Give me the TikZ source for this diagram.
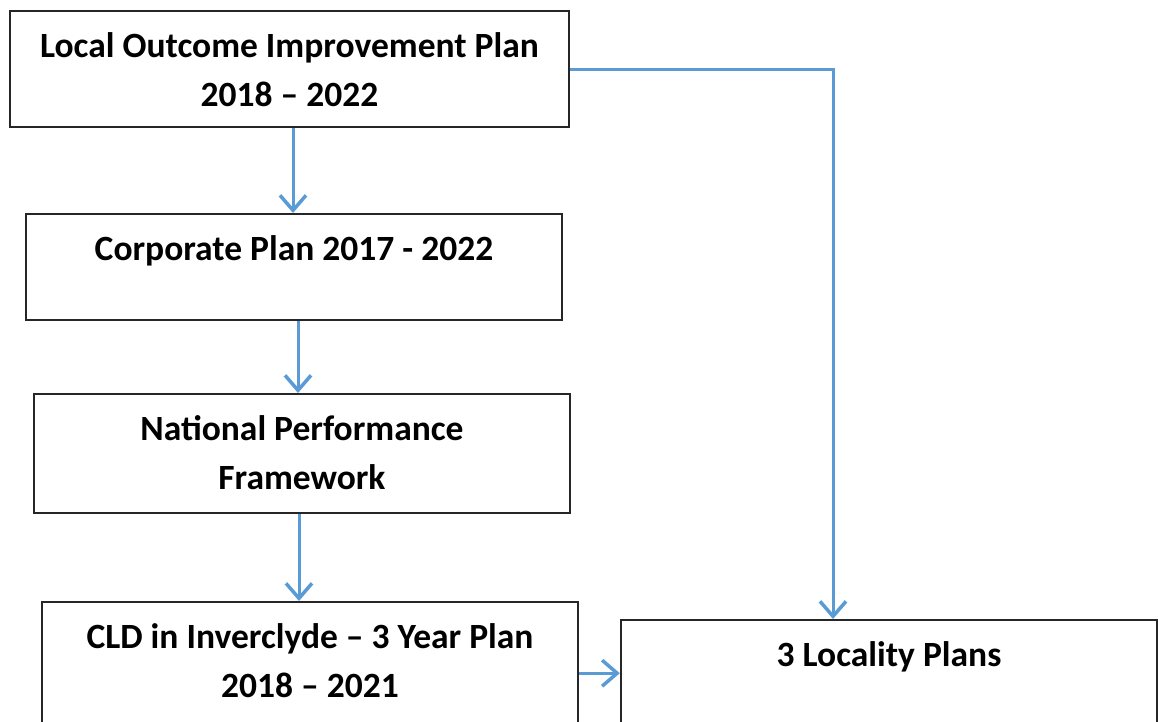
\documentclass[tikz,border=0pt]{standalone}
\usepackage{fontspec}
\setmainfont{Carlito}
\usetikzlibrary{arrows.meta}
\definecolor{linkblue}{HTML}{5B9BD5}
\definecolor{boxline}{HTML}{262626}

\begin{document}
\begin{tikzpicture}[x=1pt, y=-1pt,
    plan/.style={draw=boxline, line width=2.4pt, inner sep=0pt, text width=#1, align=flush center,
        text height=46pt, anchor=north, font=\fontsize{35.5}{49}\selectfont\bfseries},
    link/.style={draw=linkblue, line width=3pt,
        -{Straight Barb[length=15pt, width=26pt, line width=3.5pt]}}]
    \useasboundingbox (0,0) rectangle (1158,722);

    % 方框
    \node[plan=559pt, text depth=70pt] (lp) at (289.5,10) {Local Outcome Improvement Plan\\2018 – 2022};
    \node[plan=536pt, text depth=60pt] (cp) at (294,213) {Corporate Plan 2017 - 2022};
    \node[plan=536pt, text depth=73pt] (np) at (302,393) {National Performance\\Framework};
    \node[plan=536pt, text depth=96pt] (cl) at (310,601) {CLD in Inverclyde – 3 Year Plan\\2018 – 2021};
    \node[plan=536pt, text depth=90pt] (lc) at (889,619) {3 Locality Plans};

    % 箭头
    \draw[link] ([xshift=-1pt]cp.north |- lp.south) -- ([xshift=-1pt]cp.north);
    \draw[link] ([xshift=4pt]cp.south) -- ([xshift=4pt]cp.south |- np.north);
    \draw[link] ([xshift=-3pt]np.south) -- ([xshift=-3pt]np.south |- cl.north);
    \draw[link] (lp.east) -| ([xshift=-56pt]lc.north);
    \draw[link] (cl.east) -- (cl.east -| lc.west);
\end{tikzpicture}
\end{document}
